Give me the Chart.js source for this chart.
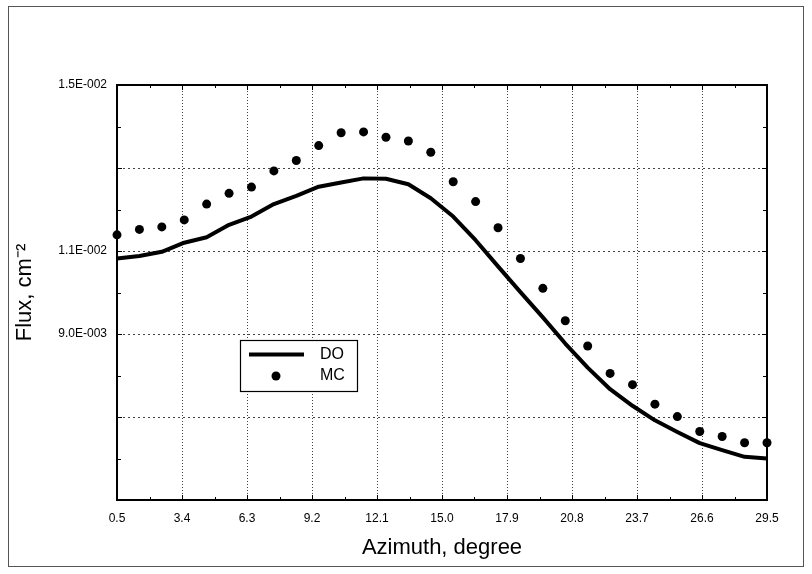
<!DOCTYPE html>
<html><head><meta charset="utf-8">
<script src="https://cdn.jsdelivr.net/npm/chart.js@4.4.1/dist/chart.umd.min.js"></script>
<style>
html,body{margin:0;padding:0;background:#fff;}
#wrap{position:relative;width:812px;height:574px;}
#frame{position:absolute;left:8px;top:6px;width:796px;height:561px;border:1px solid #555;pointer-events:none;box-sizing:border-box;}
canvas{position:absolute;left:0;top:0;}
</style></head><body>
<div id="wrap"><canvas id="c" width="812" height="574"></canvas><div id="frame"></div></div>
<script>
// ---- data ----
const azimuth = [0.5,1.5,2.5,3.5,4.5,5.5,6.5,7.5,8.5,9.5,10.5,11.5,12.5,13.5,14.5,15.5,16.5,17.5,18.5,19.5,20.5,21.5,22.5,23.5,24.5,25.5,26.5,27.5,28.5,29.5];
const doFlux = [0.01082,0.01088,0.01098,0.01120,0.01133,0.01163,0.01183,0.01213,0.01233,0.01255,0.01265,0.01275,0.01274,0.01261,0.01227,0.01183,0.01126,0.01063,0.01001,0.00940,0.00877,0.00819,0.00767,0.00727,0.00692,0.00664,0.00637,0.00620,0.00604,0.00600];
const mcFlux = [0.01139,0.01152,0.01158,0.01175,0.01213,0.01239,0.01254,0.01293,0.01318,0.01354,0.01385,0.01387,0.01374,0.01365,0.01338,0.01267,0.01219,0.01156,0.01082,0.01010,0.00932,0.00871,0.00805,0.00778,0.00731,0.00701,0.00665,0.00653,0.00638,0.00638];
const seriesNames = ['DO','MC'];
const xTickLabels = ['0.5','3.4','6.3','9.2','12.1','15.0','17.9','20.8','23.7','26.6','29.5'];
const yTickLabels = ['1.5E-002','1.1E-002','9.0E-003'];
const xTitle = 'Azimuth, degree';
const yTitle = 'Flux, cm\u207B\u00B2';

function fmtE(v){
  const parts = v.toExponential(1).split('e');
  const e = parseInt(parts[1],10);
  return parts[0] + 'E' + (e<0?'-':'+') + String(Math.abs(e)).padStart(3,'0');
}

const FONT = "'Liberation Sans', Arial, sans-serif";

const frameTicks = {
  id:'frameTicks',
  beforeDatasetsDraw(chart){
    const {ctx, chartArea:a, scales:{x,y}} = chart;
    ctx.save();
    ctx.strokeStyle = '#000';
    ctx.lineWidth = 1;
    const xt = x.ticks.map(t=>t.value), yt = y.ticks.map(t=>t.value);
    function mids(arr){const r=[];for(let i=0;i<arr.length-1;i++)r.push((arr[i]+arr[i+1])/2);return r;}
    ctx.beginPath();
    xt.forEach(v=>{const p=Math.round(x.getPixelForValue(v))+0.5;
      ctx.moveTo(p,a.bottom);ctx.lineTo(p,a.bottom-5);ctx.moveTo(p,a.top);ctx.lineTo(p,a.top+5);});
    mids(xt).forEach(v=>{const p=Math.round(x.getPixelForValue(v))+0.5;
      ctx.moveTo(p,a.bottom);ctx.lineTo(p,a.bottom-3);ctx.moveTo(p,a.top);ctx.lineTo(p,a.top+3);});
    yt.forEach(v=>{const p=Math.round(y.getPixelForValue(v))+0.5;
      ctx.moveTo(a.left,p);ctx.lineTo(a.left+5,p);ctx.moveTo(a.right,p);ctx.lineTo(a.right-5,p);});
    mids(yt).forEach(v=>{const p=Math.round(y.getPixelForValue(v))+0.5;
      ctx.moveTo(a.left,p);ctx.lineTo(a.left+4,p);ctx.moveTo(a.right,p);ctx.lineTo(a.right-4,p);});
    ctx.stroke();
    ctx.lineWidth = 2;
    ctx.strokeRect(a.left, a.top, a.right-a.left, a.bottom-a.top);
    ctx.restore();
  }
};

const boxLegend = {
  id:'boxLegend',
  afterDraw(chart, args, opts){
    const {ctx, chartArea:a} = chart;
    const L = a.left + opts.dx, T = a.top + opts.dy, W = opts.w, H = opts.h;
    ctx.save();
    ctx.fillStyle = '#fff';
    ctx.fillRect(L,T,W,H);
    ctx.strokeStyle = '#000'; ctx.lineWidth = 1.2;
    ctx.strokeRect(L+0.5,T+0.5,W,H);
    const ds = chart.data.datasets;
    ctx.lineWidth = ds[0].borderWidth; ctx.strokeStyle = ds[0].borderColor;
    ctx.beginPath(); ctx.moveTo(L+9,T+14.5); ctx.lineTo(L+64,T+14.5); ctx.stroke();
    ctx.fillStyle = ds[1].pointBackgroundColor;
    ctx.beginPath(); ctx.arc(L+36,T+36,ds[1].pointRadius,0,Math.PI*2); ctx.fill();
    ctx.fillStyle = '#000';
    ctx.font = "16px " + FONT;
    ctx.textBaseline = 'middle'; ctx.textAlign = 'left';
    ctx.fillText(ds[0].label, L+80, T+15);
    ctx.fillText(ds[1].label, L+80, T+36);
    ctx.restore();
  }
};

new Chart(document.getElementById('c'), {
  type:'scatter',
  data:{
    datasets:[
      {label:seriesNames[0], data:azimuth.map((v,i)=>({x:v,y:doFlux[i]})), showLine:true,
       borderColor:'#000', borderWidth:4, pointRadius:0, tension:0, borderJoinStyle:'round', borderCapStyle:'butt', clip:false},
      {label:seriesNames[1], data:azimuth.map((v,i)=>({x:v,y:mcFlux[i]})), showLine:false,
       pointRadius:4.5, pointBackgroundColor:'#000', borderColor:'#000', pointBorderWidth:0, clip:false}
    ]
  },
  options:{
    responsive:false, animation:false, devicePixelRatio:1,
    layout:{padding:{left:0, top:85, right:45, bottom:0}},
    plugins:{legend:{display:false}, tooltip:{enabled:false},
      boxLegend:{dx:123, dy:255, w:117, h:51}},
    scales:{
      x:{type:'linear', min:0.5, max:29.5,
        ticks:{stepSize:2.9, color:'#000', font:{family:FONT, size:12}, padding:11, maxRotation:0, autoSkip:false,
          callback:(v,i)=> xTickLabels[i] !== undefined ? xTickLabels[i] : ''},
        grid:{color:'#444', lineWidth:1, drawTicks:false},
        border:{display:true, color:'#000', width:2, dash:[1,2]},
        title:{display:true, text:xTitle, color:'#000', font:{family:FONT, size:22}, padding:{top:0,bottom:13}},
        afterFit:(s)=>{s.height = 74;}
      },
      y:{type:'linear', min:0.005, max:0.015,
        ticks:{stepSize:0.002, color:'#000', font:{family:FONT, size:12}, padding:10,
          callback:(v)=>{const s = fmtE(v); return yTickLabels.includes(s) ? s : '';}},
        grid:{color:'#444', lineWidth:1, drawTicks:false},
        border:{display:true, color:'#000', width:2, dash:[2,3]},
        title:{display:true, text:yTitle, color:'#000', font:{family:FONT, size:22}, padding:{top:12,bottom:0}},
        afterFit:(s)=>{s.width = 117;}
      }
    }
  },
  plugins:[frameTicks, boxLegend]
});
</script>
</body></html>
